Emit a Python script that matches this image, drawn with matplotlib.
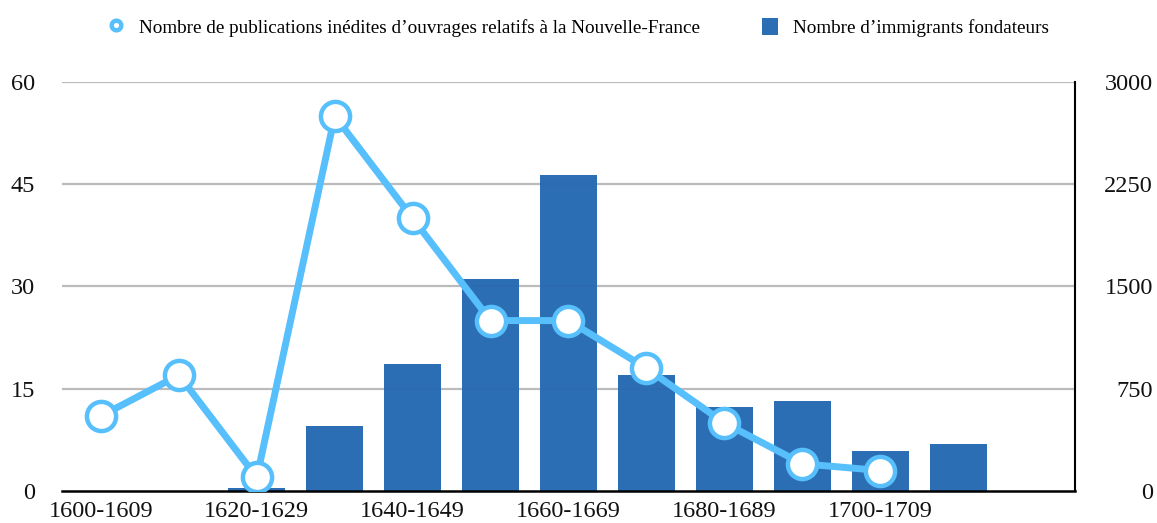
import matplotlib.pyplot as plt
import numpy as np

plt.rcParams['font.family'] = ['Liberation Serif', 'DejaVu Serif']

periodes = ['1600-1609', '1610-1619', '1620-1629', '1630-1639', '1640-1649',
            '1650-1659', '1660-1669', '1670-1679', '1680-1689', '1690-1699',
            '1700-1709', '1710-1719', '1720-1729']
publications = [11, 17, 2, 55, 40, 25, 25, 18, 10, 4, 3, None, None]
immigrants = [0, 0, 25, 480, 930, 1555, 2320, 850, 615, 660, 290, 345, 0]

ligne_col = '#56bffc'
barre_col = '#2569b1'

x = np.arange(len(periodes))
pub = np.array([np.nan if v is None else v for v in publications], dtype=float)

fig = plt.figure(figsize=(11.57, 5.23), dpi=100)
ax = fig.add_axes([0.0536, 0.0612, 0.8755, 0.7820])
ax2 = ax.twinx()

# barres sur l'axe de droite, dessinées derrière la ligne
ax2.set_zorder(1)
ax.set_zorder(2)
ax.patch.set_visible(False)

ax2.bar(x, immigrants, width=0.73, color=barre_col, alpha=0.97, zorder=2,
        label="Nombre d\u2019immigrants fondateurs")
ax.plot(x, pub, color=ligne_col, lw=5, marker='o', markersize=21,
        markerfacecolor='white', markeredgecolor=ligne_col, markeredgewidth=3.2,
        label="Nombre de publications in\u00e9dites d\u2019ouvrages relatifs \u00e0 la Nouvelle-France")

ax.set_xlim(-0.5, len(periodes) - 0.5)
ax.set_ylim(0, 60)
ax2.set_ylim(0, 3000)
ax.set_yticks([0, 15, 30, 45, 60])
ax2.set_yticks([0, 750, 1500, 2250, 3000])
ax.set_xticks(x[0:11:2])
ax.set_xticklabels([periodes[i] for i in range(0, 11, 2)])

for g in [750, 1500, 2250, 3000]:
    ax2.axhline(g, color='#bbbbbb', lw=1.6, zorder=1)

for a in (ax, ax2):
    for s in a.spines.values():
        s.set_visible(False)
    a.tick_params(length=0, labelsize=17.5, colors='#111111')
ax2.spines['right'].set_visible(True)
ax2.spines['right'].set_linewidth(1.5)
ax2.spines['bottom'].set_visible(True)
ax2.spines['bottom'].set_linewidth(1.8)
ax.tick_params(axis='y', pad=19.5)
ax.tick_params(axis='x', pad=7)
ax2.tick_params(axis='y', pad=56)
for t in ax2.get_yticklabels():
    t.set_horizontalalignment('right')

h1, l1 = ax.get_legend_handles_labels()
h2, l2 = ax2.get_legend_handles_labels()
leg = fig.legend(h1 + h2, l1 + l2, loc='center', bbox_to_anchor=(0.5, 0.948), ncol=2,
                 frameon=False, fontsize=13.8, columnspacing=3.2, handletextpad=0.8,
                 handlelength=0.85, handleheight=1.0, markerscale=0.33)
leg.legend_handles[0].set_linewidth(0)

fig.savefig('out.png', dpi=100)
